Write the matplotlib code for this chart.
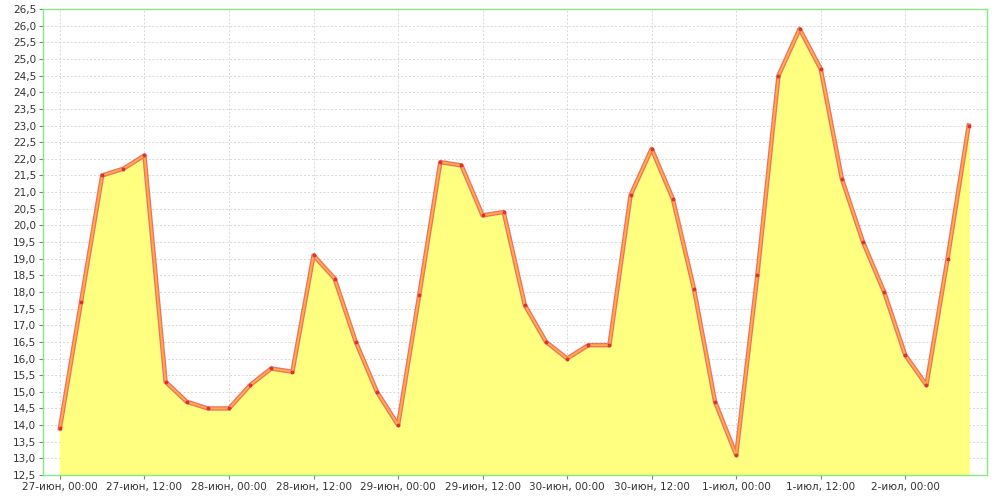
import matplotlib.pyplot as plt
import numpy as np

# readings every 3 hours starting 27-июн 00:00
hours = np.arange(0, 132, 3)
temps = [13.9, 17.7, 21.5, 21.7, 22.1, 15.3, 14.7, 14.5, 14.5, 15.2, 15.7,
         15.6, 19.1, 18.4, 16.5, 15.0, 14.0, 17.9, 21.9, 21.8, 20.3, 20.4,
         17.6, 16.5, 16.0, 16.4, 16.4, 20.9, 22.3, 20.8, 18.1, 14.7, 13.1,
         18.5, 24.5, 25.9, 24.7, 21.4, 19.5, 18.0, 16.1, 15.2, 19.0, 23.0]

tick_hours = np.arange(0, 132, 12)
tick_labels = ["27-июн, 00:00", "27-июн, 12:00", "28-июн, 00:00", "28-июн, 12:00",
               "29-июн, 00:00", "29-июн, 12:00", "30-июн, 00:00", "30-июн, 12:00",
               "1-июл, 00:00", "1-июл, 12:00", "2-июл, 00:00"]


def main():
    fig = plt.figure(figsize=(10, 5), dpi=100)
    ax = fig.add_axes([0.043, 0.05, 0.944, 0.932])

    ymin = 12.5
    ax.fill_between(hours, temps, ymin, color="#ffff80", zorder=2)
    ax.plot(hours, temps, color="#f07068", lw=3.2, zorder=3,
            solid_joinstyle="round")
    ax.plot(hours, temps, color="#ffb040", lw=1.3, zorder=4,
            solid_joinstyle="round")
    ax.plot(hours, temps, ls="none", marker="o", ms=1.8, color="#e03030", zorder=5)

    ax.set_xlim(-2.4, 131.6)
    ax.set_ylim(12.5, 26.5)

    ax.set_yticks(np.arange(12.5, 26.51, 0.5))
    ax.set_yticklabels([f"{v:.1f}".replace(".", ",") for v in np.arange(12.5, 26.51, 0.5)])
    ax.set_xticks(tick_hours)
    ax.set_xticklabels(tick_labels)

    ax.tick_params(labelsize=7.5, length=3, color="#808080", pad=2, labelcolor="#333333")
    ax.grid(True, color="#d8d8d8", ls=(0, (2, 2)), lw=0.7, zorder=1)
    for s in ax.spines.values():
        s.set_color("#88e888")
        s.set_linewidth(1)

    fig.savefig("out.png")


if __name__ == "__main__":
    main()
